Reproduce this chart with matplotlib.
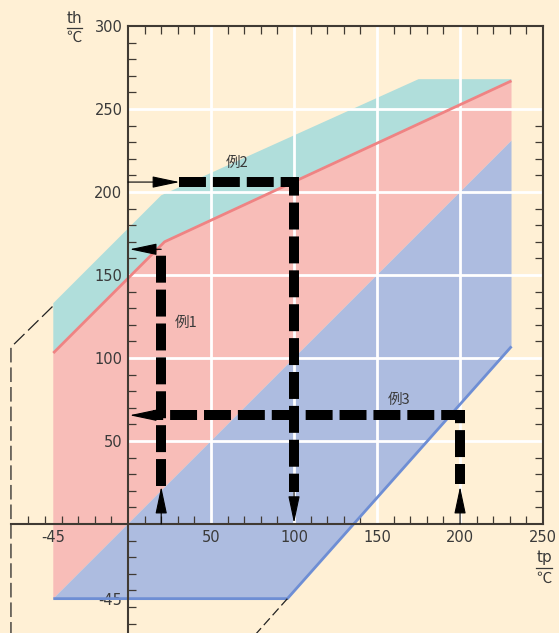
import matplotlib
matplotlib.use("Agg")
import matplotlib.pyplot as plt
from matplotlib.lines import Line2D

plt.rcParams['lines.scale_dashes'] = False

# ---------------- data ----------------
xlim = (-77.1, 259.6)
ylim = (-65.7, 315.7)

teal_top_x = [-45, 20, 175, 231]
teal_top_y = [133, 198, 268, 268]
red_x = [-45, 22, 231]
red_y = [103, 170, 267]
blue_top_x = [-45, 231]
blue_top_y = [-45, 231]
blue_low_x = [-45, 96, 231]
blue_low_y = [-45, -45, 107]
ext_left_x = [-45.5, -70.5, -70.5]
ext_left_y = [131, 106.5, -70]
ext_low_x = [96, 73]
ext_low_y = [-45, -70.8]

xticks_major = [-45, 50, 100, 150, 200, 250]
xtick_labels = ["-45", "50", "100", "150", "200", "250"]
yticks_major = [-45, 50, 100, 150, 200, 250, 300]
ytick_labels = ["-45", "50", "100", "150", "200", "250", "300"]
x_minor_bottom = [-60, -50, -40, -30, -20, -10] + [v for v in range(10, 250, 10) if v % 50]
y_minor_left = [-60, -50, -40, -30, -20, -10] + [v for v in range(10, 300, 10) if v % 50]
x_minor_top = [v for v in range(10, 250, 10) if v % 50]
y_minor_right = [v for v in range(10, 250, 10) if v % 50]
grid_x = [50, 100, 150, 200]
grid_y = [50, 100, 150, 200, 250]

ex1_x = [20, 20]
ex1_y = [23, 165.5]
ex2_x = [31, 100, 100]
ex2_y = [206, 206, 19]
ex3_x = [200, 200, 15]
ex3_y = [24, 65.5, 65.5]
arrows = [((20, 0), (20, 22.5)), ((20, 165.5), (1, 165.5)),
          ((0, 206), (31, 206)), ((100, 19), (100, 0.5)),
          ((200, 0), (200, 22.5)), ((20, 65.5), (1, 65.5))]
ex_labels = ["例1", "例2", "例3"]
ex_label_pos = [(35, 121), (66, 217.5), (163, 74.7)]

# ---------------- style ----------------
cream = "#FFF0D5"
teal = "#B0DEDB"
pink = "#F8BDB8"
blue = "#ADBCE0"
red_line = "#EF8383"
blue_line = "#6E8ED4"
axis_c = "#403a33"
text_c = "#3a3a3a"
fam = ["DejaVu Sans", "Noto Sans CJK JP"]

fig = plt.figure(figsize=(5.59, 6.33), dpi=100, facecolor=cream)
ax = fig.add_axes([0, 0, 1, 1])
ax.set_facecolor(cream)
ax.set_xlim(xlim)
ax.set_ylim(ylim)

# regions
ax.fill(teal_top_x + red_x[::-1], teal_top_y + red_y[::-1], color=teal, lw=0, zorder=1)
ax.fill(red_x + blue_top_x[::-1], red_y + blue_top_y[::-1], color=pink, lw=0, zorder=1.1)
ax.fill(blue_top_x + blue_low_x[::-1], blue_top_y + blue_low_y[::-1], color=blue, lw=0, zorder=1.2)

# grid
ax.vlines(grid_x, 0, 300, colors="white", lw=2.0, zorder=1.5)
ax.hlines(grid_y, 0, 250, colors="white", lw=2.0, zorder=1.5)

# boundary lines
ax.plot(red_x, red_y, color=red_line, lw=2.0, zorder=1.8, solid_capstyle='butt')
ax.plot(blue_low_x, blue_low_y, color=blue_line, lw=2.0, zorder=1.8, solid_capstyle='butt')
ax.plot(ext_left_x, ext_left_y, color="#222222", lw=0.9, ls=(0, (10.5, 3.6)), zorder=1.8)
ax.plot(ext_low_x, ext_low_y, color="#222222", lw=0.9, ls=(0, (6.5, 3.0)), zorder=1.8)

# spines
for s in ["top", "right"]:
    ax.spines[s].set_visible(False)
ax.spines["left"].set_position(("data", 0))
ax.spines["left"].set_bounds(-70, 300)
ax.spines["bottom"].set_position(("data", 0))
ax.spines["bottom"].set_bounds(-70.5, 250)
for s in ["left", "bottom"]:
    ax.spines[s].set_color(axis_c)
    ax.spines[s].set_linewidth(1.5)
ax.xaxis.set_ticks_position("bottom")
ax.yaxis.set_ticks_position("left")
ax.set_xticks(xticks_major)
ax.set_xticklabels(xtick_labels)
ax.set_yticks(yticks_major)
ax.set_yticklabels(ytick_labels)
ax.set_xticks(x_minor_bottom, minor=True)
ax.set_yticks(y_minor_left, minor=True)
ax.tick_params(which="major", length=0, pad=4, labelsize=10.5, labelcolor=text_c)
ax.tick_params(which="minor", direction="in", length=5.8, width=0.9, color=axis_c)
for lab in ax.get_xticklabels() + ax.get_yticklabels():
    lab.set_fontfamily(fam)

# top/right ticks
ax2 = fig.add_axes([0, 0, 1, 1])
ax2.set_xlim(xlim)
ax2.set_ylim(ylim)
ax2.patch.set_visible(False)
for s in ["left", "bottom"]:
    ax2.spines[s].set_visible(False)
ax2.spines["top"].set_position(("data", 300))
ax2.spines["top"].set_bounds(0, 250)
ax2.spines["right"].set_position(("data", 250))
ax2.spines["right"].set_bounds(0, 300)
for s in ["top", "right"]:
    ax2.spines[s].set_color(axis_c)
    ax2.spines[s].set_linewidth(1.5)
ax2.xaxis.set_ticks_position("top")
ax2.yaxis.set_ticks_position("right")
ax2.set_xticks([])
ax2.set_yticks([])
ax2.set_xticks(x_minor_top, minor=True)
ax2.set_yticks(y_minor_right, minor=True)
ax2.tick_params(which="minor", direction="in", length=5.8, width=0.9, color=axis_c,
                labeltop=False, labelright=False)

# example paths (thick dashes)
dash = (0, (19.4, 5.0))
ax2.plot(ex1_x, ex1_y, color="black", lw=7.2, ls=dash, dash_capstyle='butt',
         dash_joinstyle='miter', zorder=4)
ax2.plot(ex2_x, ex2_y, color="black", lw=7.2, ls=dash, dash_capstyle='butt',
         dash_joinstyle='miter', zorder=4)
ax2.plot(ex3_x, ex3_y, color="black", lw=7.2, ls=(5.0, (19.4, 5.0)), dash_capstyle='butt',
         dash_joinstyle='miter', zorder=4)

for tail, tip in arrows:
    ax2.annotate("", xy=tip, xytext=tail,
                 arrowprops=dict(arrowstyle="-|>,head_length=1.7,head_width=0.36",
                                 color="black", lw=0.8, shrinkA=0, shrinkB=0),
                 zorder=5)

for t, (px, py) in zip(ex_labels, ex_label_pos):
    ax2.text(px, py, t, ha="center", va="center", fontsize=10.5, color=text_c,
             family=["Noto Sans CJK JP", "DejaVu Sans"], zorder=6)

# unit labels
ax2.text(-32.5, 304.4, "th", ha="center", va="center", fontsize=11, color=text_c, family=fam)
ax2.add_line(Line2D([-37.0, -27.6], [298.8, 298.8], color=text_c, lw=0.9))
ax2.text(-32.5, 293.0, "℃", ha="center", va="center", fontsize=11,
         color=text_c, family=["Noto Sans CJK JP", "DejaVu Sans"])
ax2.text(250.6, -20.3, "tp", ha="center", va="center", fontsize=11, color=text_c, family=fam)
ax2.add_line(Line2D([246.0, 255.6], [-26.5, -26.5], color=text_c, lw=0.9))
ax2.text(250.6, -32.6, "℃", ha="center", va="center", fontsize=11,
         color=text_c, family=["Noto Sans CJK JP", "DejaVu Sans"])

fig.savefig("out.png", dpi=100, facecolor=cream)
